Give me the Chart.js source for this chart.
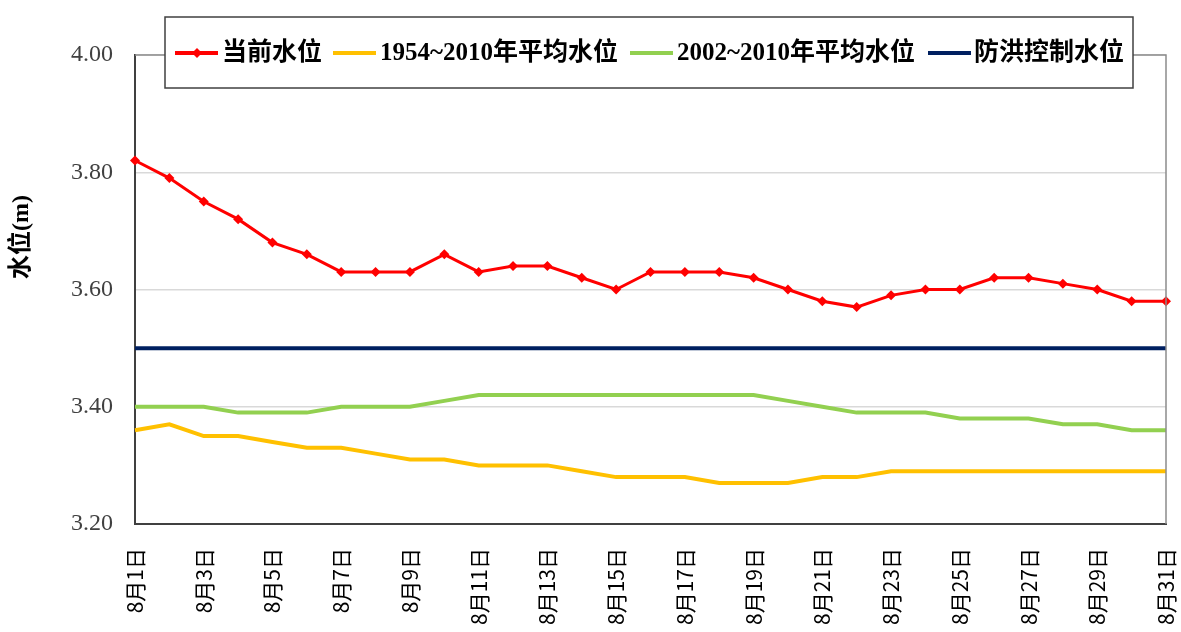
<!DOCTYPE html>
<html><head><meta charset="utf-8">
<script src="https://cdn.jsdelivr.net/npm/chart.js@4.4.0/dist/chart.umd.min.js"></script>
<style>html,body{margin:0;padding:0;background:#fff;}#wrap{width:1181px;height:632px;position:relative;}canvas{display:block;}</style>
</head><body><div id="wrap"><canvas id="c" width="1181" height="632"></canvas></div>
<script>
const categories = ['8月1日','8月2日','8月3日','8月4日','8月5日','8月6日','8月7日','8月8日','8月9日','8月10日',
  '8月11日','8月12日','8月13日','8月14日','8月15日','8月16日','8月17日','8月18日','8月19日','8月20日',
  '8月21日','8月22日','8月23日','8月24日','8月25日','8月26日','8月27日','8月28日','8月29日','8月30日','8月31日'];
const seriesNames = ['当前水位','1954~2010年平均水位','2002~2010年平均水位','防洪控制水位'];
const currentLevel = [3.82,3.79,3.75,3.72,3.68,3.66,3.63,3.63,3.63,3.66,3.63,3.64,3.64,3.62,3.60,3.63,3.63,3.63,3.62,3.60,3.58,3.57,3.59,3.60,3.60,3.62,3.62,3.61,3.60,3.58,3.58];
const avg1954_2010 = [3.36,3.37,3.35,3.35,3.34,3.33,3.33,3.32,3.31,3.31,3.30,3.30,3.30,3.29,3.28,3.28,3.28,3.27,3.27,3.27,3.28,3.28,3.29,3.29,3.29,3.29,3.29,3.29,3.29,3.29,3.29];
const avg2002_2010 = [3.40,3.40,3.40,3.39,3.39,3.39,3.40,3.40,3.40,3.41,3.42,3.42,3.42,3.42,3.42,3.42,3.42,3.42,3.42,3.41,3.40,3.39,3.39,3.39,3.38,3.38,3.38,3.37,3.37,3.36,3.36];
const floodControl = [3.50,3.50,3.50,3.50,3.50,3.50,3.50,3.50,3.50,3.50,3.50,3.50,3.50,3.50,3.50,3.50,3.50,3.50,3.50,3.50,3.50,3.50,3.50,3.50,3.50,3.50,3.50,3.50,3.50,3.50,3.50];
const yMin = 3.20, yMax = 4.00, yStep = 0.20;
const yTitle = '水位(m)';

const colors = ['#ff0000','#ffc000','#92d050','#002060'];

const legendLayout = [ {lx:175, tx:222}, {lx:333, tx:380}, {lx:630, tx:677}, {lx:928, tx:974} ];

const customPlugin = {
  id: 'custom',
  afterDatasetsDraw(chart) {
    const ctx = chart.ctx;
    const a = chart.chartArea;
    ctx.save();
    ctx.strokeStyle = '#8c8c8c';
    ctx.lineWidth = 1.5;
    ctx.beginPath();
    ctx.moveTo(a.left, a.top); ctx.lineTo(a.right, a.top); ctx.lineTo(a.right, a.bottom);
    ctx.stroke();
    ctx.fillStyle = '#fff';
    ctx.fillRect(165, 17, 968, 71);
    ctx.strokeStyle = '#404040';
    ctx.lineWidth = 1.5;
    ctx.strokeRect(165, 17, 968, 71);
    const cy = 53;
    ctx.font = "bold 25px 'Liberation Serif','Noto Sans CJK SC'";
    ctx.textBaseline = 'middle';
    ctx.textAlign = 'left';
    chart.data.datasets.forEach((ds, i) => {
      const L = legendLayout[i];
      ctx.strokeStyle = ds.borderColor;
      ctx.lineWidth = 4;
      ctx.beginPath(); ctx.moveTo(L.lx, cy); ctx.lineTo(L.lx + 43, cy); ctx.stroke();
      if (ds.pointRadius > 0) {
        ctx.fillStyle = ds.borderColor;
        ctx.beginPath();
        const mx = L.lx + 22, r = 5;
        ctx.moveTo(mx, cy - r); ctx.lineTo(mx + r, cy); ctx.lineTo(mx, cy + r); ctx.lineTo(mx - r, cy); ctx.closePath();
        ctx.fill();
      }
      ctx.fillStyle = '#000';
      ctx.fillText(ds.label, L.tx, cy + 1);
    });
    ctx.translate(22, 237);
    ctx.rotate(-Math.PI / 2);
    ctx.textAlign = 'center';
    ctx.font = "bold 24px 'Liberation Serif','Noto Sans CJK SC'";
    ctx.fillText(yTitle, 0, 0);
    ctx.restore();
  }
};

const mk = (i, data, extra) => Object.assign({
  label: seriesNames[i], data, borderColor: colors[i], backgroundColor: colors[i],
  borderWidth: 4, pointRadius: 0, tension: 0, fill: false
}, extra || {});

new Chart(document.getElementById('c'), {
  type: 'line',
  data: {
    labels: categories,
    datasets: [
      mk(0, currentLevel, {borderWidth: 3, pointRadius: 5, pointStyle: 'rectRot', pointBorderWidth: 0}),
      mk(1, avg1954_2010),
      mk(2, avg2002_2010),
      mk(3, floodControl)
    ]
  },
  options: {
    responsive: false,
    animation: false,
    layout: { padding: { top: 55, right: 15, left: 0, bottom: 0 } },
    plugins: { legend: { display: false }, tooltip: { enabled: false } },
    scales: {
      x: {
        offset: false,
        afterFit(s) { s.height = 108; s.paddingLeft = 0; s.paddingRight = 0; },
        grid: { display: true, drawOnChartArea: false, drawTicks: false },
        border: { display: true, color: '#404040', width: 2 },
        ticks: {
          autoSkip: false, maxRotation: 90, minRotation: 90, padding: 24,
          color: '#000',
          font: { family: "'Noto Sans CJK SC'", size: 21 },
          callback(v, i) { return i % 2 === 0 ? categories[i] : ''; }
        }
      },
      y: {
        min: yMin, max: yMax,
        afterFit(s) { s.width = 135; s.paddingTop = 0; s.paddingBottom = 0; },
        grid: { color: '#d9d9d9', lineWidth: 1.5, drawTicks: false },
        border: { display: true, color: '#404040', width: 2 },
        ticks: {
          stepSize: yStep, padding: 22, color: '#404040',
          font: { family: "'Liberation Serif'", size: 24 },
          callback(v) { return Number(v).toFixed(2); }
        }
      }
    }
  },
  plugins: [customPlugin]
});
</script></body></html>
